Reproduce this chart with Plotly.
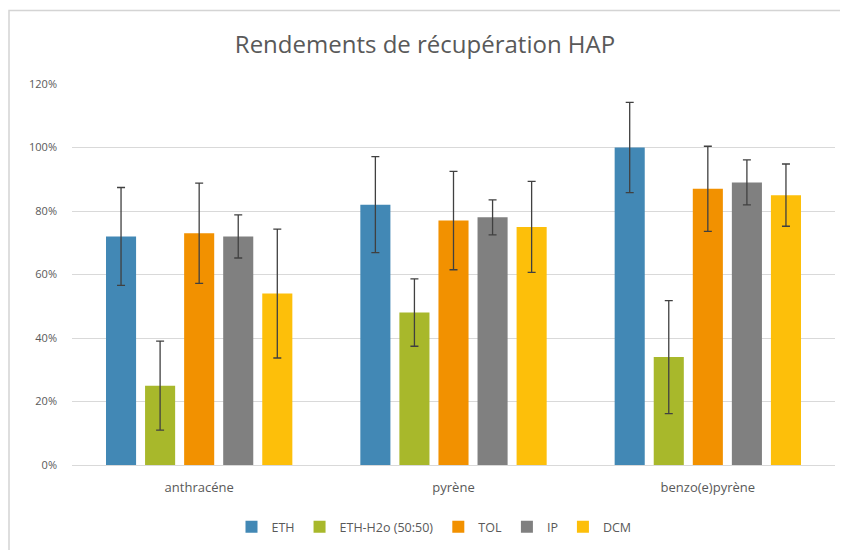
import plotly.graph_objects as go

categories = ["anthracéne", "pyrène", "benzo(e)pyrène"]
series_names = ["ETH", "ETH-H2o (50:50)", "TOL", "IP", "DCM"]
eth = [0.72, 0.82, 1.00]
eth_h2o = [0.25, 0.48, 0.34]
tol = [0.73, 0.77, 0.87]
ip = [0.72, 0.78, 0.89]
dcm = [0.54, 0.75, 0.85]
eth_err = [0.154, 0.151, 0.142]
eth_h2o_err = [0.140, 0.106, 0.178]
tol_err = [0.158, 0.155, 0.134]
ip_err = [0.068, 0.055, 0.071]
dcm_err = [0.203, 0.143, 0.098]
tick_vals = [0, 0.2, 0.4, 0.6, 0.8, 1.0, 1.2]
tick_text = ["0%", "20%", "40%", "60%", "80%", "100%", "120%"]

values = [eth, eth_h2o, tol, ip, dcm]
errors = [eth_err, eth_h2o_err, tol_err, ip_err, dcm_err]
colors = ["#4288B5", "#A8B82B", "#F29100", "#808080", "#FDBF0A"]

fig = go.Figure()
for name, v, e, c in zip(series_names, values, errors, colors):
    fig.add_trace(go.Bar(
        name=name, x=categories, y=v, marker_color=c, marker_line_width=0,
        error_y=dict(type="data", array=e, visible=True, color="#404040",
                     thickness=1.3, width=4),
    ))

# page body has an 8px margin; figure pixels = page pixels - 8
OFF = 8
W, H = 848 - OFF, 550 - OFF
L, T = 72 - OFF, 84 - OFF
R = W - (835 - OFF)
B = H - (465 - OFF)
ph = H - T - B
pw = W - L - R

def py(p):
    return (H - B - (p - OFF)) / ph

def px(p):
    return ((p - OFF) - L) / pw

fig.update_layout(
    width=W, height=H,
    margin=dict(l=L, r=R, t=T, b=B, autoexpand=False),
    paper_bgcolor="white", plot_bgcolor="white",
    barmode="group", bargap=0.232, bargroupgap=0.23,
    title=dict(text="Rendements de récupération HAP", x=(425 - OFF) / W,
               xanchor="center", y=1 - (45 - OFF) / H, yanchor="middle",
               font=dict(family="Open Sans", size=24, color="#595959")),
    font=dict(family="Open Sans", color="#595959", size=12),
    xaxis=dict(showgrid=False, showline=True, linecolor="#d9d9d9", linewidth=1,
               ticks="", ticklabelstandoff=10,
               tickfont=dict(size=13, color="#595959")),
    yaxis=dict(range=[0, 1.2], tickvals=tick_vals, ticktext=tick_text,
               showgrid=True, gridcolor="#d9d9d9", gridwidth=1, zeroline=False,
               showline=False, ticks="", ticklabelstandoff=14,
               tickfont=dict(size=11, color="#595959")),
    legend=dict(orientation="h", x=px(434), xanchor="center", xref="paper",
                y=py(527), yanchor="middle", font=dict(size=12.5, color="#595959"),
                itemwidth=30, tracegroupgap=0),
    shapes=[
        dict(type="rect", xref="paper", yref="paper", x0=px(9), x1=px(W + 20),
             y0=py(10.5), y1=py(H + 20), fillcolor="rgba(0,0,0,0)",
             line=dict(color="#d4d4d4", width=1.5), layer="below"),
    ],
)

fig.write_html("out.html")
